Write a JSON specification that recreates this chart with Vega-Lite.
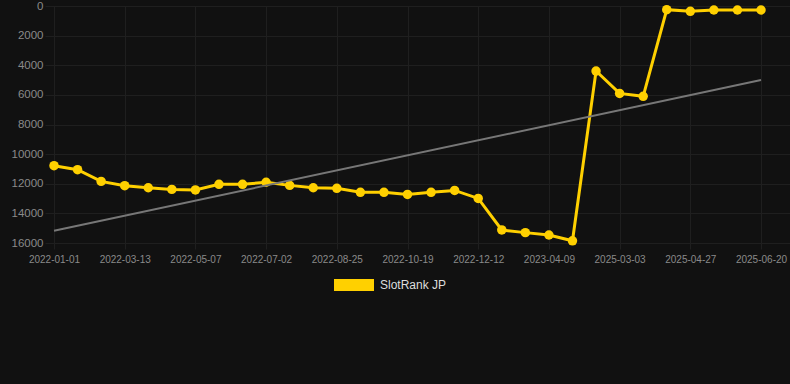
{
  "$schema": "https://vega.github.io/schema/vega-lite/v6.json",
  "width": 745,
  "height": 237,
  "autosize": {"type": "none"},
  "padding": {"left": 45, "top": 6, "right": 0, "bottom": 141},
  "background": "#111111",
  "config": {
    "view": {"stroke": null},
    "font": "Liberation Sans",
    "axis": {
      "gridColor": "#1f1f1f",
      "gridWidth": 1,
      "domain": false,
      "labelColor": "#8a8a8a",
      "labelFont": "Liberation Sans",
      "title": null
    },
    "legend": {"labelFont": "Liberation Sans"}
  },
  "data": {
    "values": [
      {"date": "2022-01-01", "rank": 10780, "series": "SlotRank JP", "trend": 15170},
      {"date": "2022-01-25", "rank": 11050, "series": "SlotRank JP"},
      {"date": "2022-02-18", "rank": 11840, "series": "SlotRank JP"},
      {"date": "2022-03-13", "rank": 12130, "series": "SlotRank JP"},
      {"date": "2022-03-31", "rank": 12270, "series": "SlotRank JP"},
      {"date": "2022-04-19", "rank": 12380, "series": "SlotRank JP"},
      {"date": "2022-05-07", "rank": 12420, "series": "SlotRank JP"},
      {"date": "2022-05-26", "rank": 12040, "series": "SlotRank JP"},
      {"date": "2022-06-13", "rank": 12040, "series": "SlotRank JP"},
      {"date": "2022-07-02", "rank": 11900, "series": "SlotRank JP"},
      {"date": "2022-07-20", "rank": 12110, "series": "SlotRank JP"},
      {"date": "2022-08-07", "rank": 12270, "series": "SlotRank JP"},
      {"date": "2022-08-25", "rank": 12310, "series": "SlotRank JP"},
      {"date": "2022-09-12", "rank": 12580, "series": "SlotRank JP"},
      {"date": "2022-10-01", "rank": 12580, "series": "SlotRank JP"},
      {"date": "2022-10-19", "rank": 12720, "series": "SlotRank JP"},
      {"date": "2022-11-06", "rank": 12580, "series": "SlotRank JP"},
      {"date": "2022-11-24", "rank": 12450, "series": "SlotRank JP"},
      {"date": "2022-12-12", "rank": 12990, "series": "SlotRank JP"},
      {"date": "2023-01-20", "rank": 15120, "series": "SlotRank JP"},
      {"date": "2023-02-28", "rank": 15300, "series": "SlotRank JP"},
      {"date": "2023-04-09", "rank": 15460, "series": "SlotRank JP"},
      {"date": "2023-05-18", "rank": 15850, "series": "SlotRank JP"},
      {"date": "2025-02-13", "rank": 4390, "series": "SlotRank JP"},
      {"date": "2025-03-03", "rank": 5900, "series": "SlotRank JP"},
      {"date": "2025-03-21", "rank": 6100, "series": "SlotRank JP"},
      {"date": "2025-04-09", "rank": 250, "series": "SlotRank JP"},
      {"date": "2025-04-27", "rank": 360, "series": "SlotRank JP"},
      {"date": "2025-05-15", "rank": 270, "series": "SlotRank JP"},
      {"date": "2025-06-02", "rank": 270, "series": "SlotRank JP"},
      {"date": "2025-06-20", "rank": 270, "series": "SlotRank JP", "trend": 5000}
    ]
  },
  "encoding": {
    "x": {
      "field": "date",
      "type": "ordinal",
      "scale": {"type": "point", "padding": 0.806, "align": 0.237},
      "axis": {
        "values": ["2022-01-01", "2022-03-13", "2022-05-07", "2022-07-02", "2022-08-25", "2022-10-19", "2022-12-12", "2023-04-09", "2025-03-03", "2025-04-27", "2025-06-20"],
        "labelAngle": 0,
        "labelFontSize": 10,
        "labelOverlap": false,
        "ticks": true,
        "tickColor": "#1f1f1f",
        "tickSize": 6,
        "labelPadding": 5,
        "grid": true
      }
    }
  },
  "layer": [
    {
      "mark": {"type": "line", "strokeWidth": 3, "point": {"filled": true, "size": 90, "opacity": 1}},
      "encoding": {
        "y": {
          "field": "rank",
          "type": "quantitative",
          "scale": {"domain": [0, 16000], "reverse": true, "nice": false, "zero": false},
          "axis": {"values": [0, 2000, 4000, 6000, 8000, 10000, 12000, 14000, 16000], "tickCount": 9, "format": "d", "labelOverlap": false, "labelFontSize": 11.5, "ticks": false, "labelPadding": 2, "grid": true}
        },
        "color": {
          "field": "series",
          "type": "nominal",
          "scale": {"range": ["#FFD000"]},
          "legend": {
            "title": null,
            "orient": "none",
            "legendX": 289,
            "legendY": 259,
            "padding": 0,
            "symbolType": "M-1,-0.3H1V0.3H-1Z",
            "symbolSize": 1600,
            "symbolStrokeWidth": 0,
            "symbolFillColor": "#FFD000",
            "labelColor": "#dddddd",
            "labelFontSize": 12,
            "labelOffset": 6,
            "encode": {"symbols": {"update": {"fill": {"value": "#FFD000"}, "stroke": {"value": "transparent"}, "strokeWidth": {"value": 0}}}}
          }
        }
      }
    },
    {
      "transform": [{"filter": "datum.trend != null"}],
      "mark": {"type": "line", "color": "#777777", "strokeWidth": 2},
      "encoding": {
        "y": {
          "field": "trend",
          "type": "quantitative",
          "scale": {"domain": [0, 16000], "reverse": true, "nice": false, "zero": false},
          "axis": {"values": [0, 2000, 4000, 6000, 8000, 10000, 12000, 14000, 16000], "tickCount": 9, "format": "d", "labelOverlap": false, "labelFontSize": 11.5, "ticks": false, "labelPadding": 2, "grid": true}
        }
      }
    }
  ]
}
